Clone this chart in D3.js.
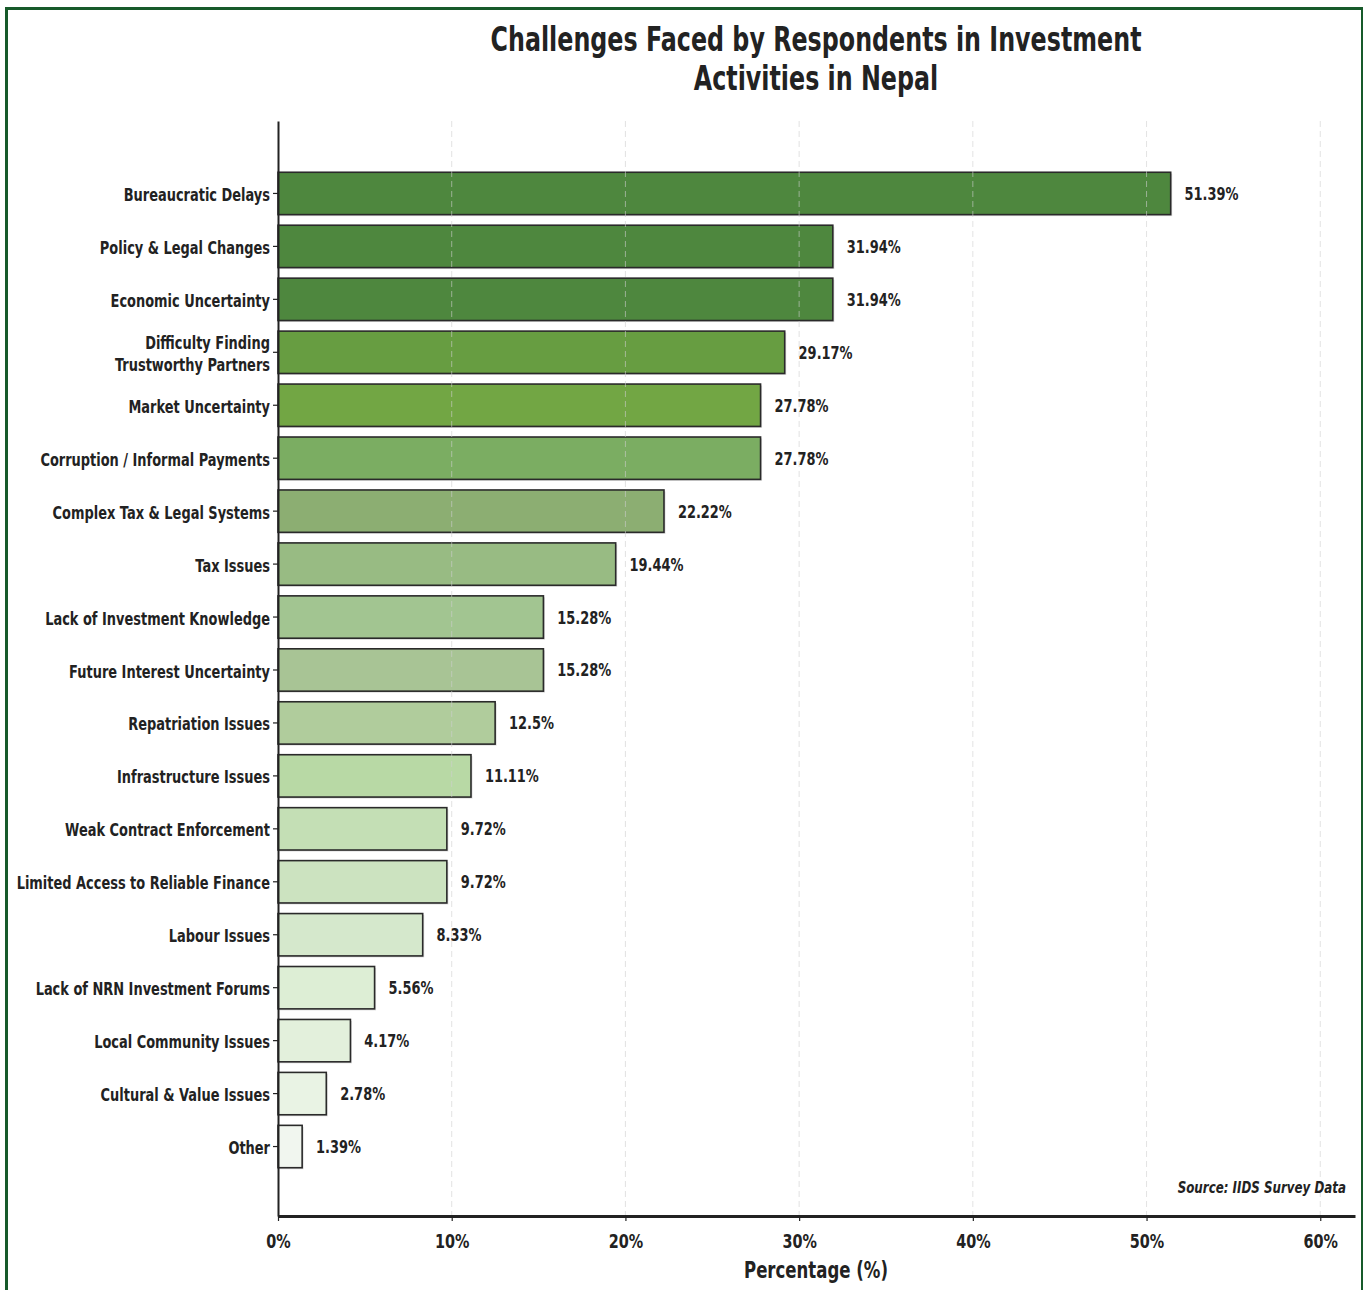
<!DOCTYPE html>
<html>
<head>
<meta charset="utf-8">
<script src="https://cdn.jsdelivr.net/npm/d3@7"></script>
<style>
  body { margin: 0; background: #ffffff; }
  text { font-family: "DejaVu Sans", sans-serif; font-weight: bold; fill: #222; }
</style>
</head>
<body>
<svg id="chart" width="1363" height="1290"></svg>
<script>
// Survey categories, top to bottom
const categories = [
  "Bureaucratic Delays",
  "Policy & Legal Changes",
  "Economic Uncertainty",
  "Difficulty Finding\nTrustworthy Partners",
  "Market Uncertainty",
  "Corruption / Informal Payments",
  "Complex Tax & Legal Systems",
  "Tax Issues",
  "Lack of Investment Knowledge",
  "Future Interest Uncertainty",
  "Repatriation Issues",
  "Infrastructure Issues",
  "Weak Contract Enforcement",
  "Limited Access to Reliable Finance",
  "Labour Issues",
  "Lack of NRN Investment Forums",
  "Local Community Issues",
  "Cultural & Value Issues",
  "Other"
];

// Share of respondents (%)
const values = [51.39, 31.94, 31.94, 29.17, 27.78, 27.78, 22.22, 19.44, 15.28, 15.28,
                12.5, 11.11, 9.72, 9.72, 8.33, 5.56, 4.17, 2.78, 1.39];

// Bar fills, dark to light green
const barColors = [
  "#4e873e", "#4e873e", "#4e873e", "#679d41", "#72a644", "#7bad62", "#8cae72",
  "#98bb83", "#a2c591", "#a8c495", "#b0cc9c", "#b8d9a5", "#c4dfb5", "#cce3c0",
  "#d5e8cc", "#ddeed5", "#e3f0dc", "#e9f3e4", "#f1f6ef"
];

const xTicks = [0, 10, 20, 30, 40, 50, 60];
const titleLines = ["Challenges Faced by Respondents in Investment", "Activities in Nepal"];
const xAxisTitle = "Percentage (%)";
const sourceNote = "Source: IIDS Survey Data";

const SX = 0.72; // horizontal squeeze applied to the type

const svg = d3.select("#chart");

// outer frame
svg.append("rect")
  .attr("x", 6.5).attr("y", 8.5)
  .attr("width", 1356).attr("height", 1320)
  .attr("fill", "none")
  .attr("stroke", "#175a2a")
  .attr("stroke-width", 3);

const plot = { left: 278, right: 1355, top: 121, bottom: 1216 };

const x = d3.scaleLinear().domain([0, 62]).range([plot.left, plot.right]);
const y = d3.scaleBand()
  .domain(categories)
  .range([plot.top, plot.bottom])
  .paddingInner(0.2)
  .paddingOuter(0.94)
  .align(0.515);

function squeezed(parent, px, py, str, size, anchor, italic, sx) {
  return parent.append("text")
    .attr("transform", `translate(${px},${py}) scale(${sx || SX},1)`)
    .attr("text-anchor", anchor)
    .style("font-size", size + "px")
    .style("font-style", italic ? "italic" : "normal")
    .text(str);
}

// bars with a faint drop shadow
const bars = svg.append("g");
bars.selectAll("rect.shadow")
  .data(values)
  .join("rect")
  .attr("class", "shadow")
  .attr("x", x(0) + 1.5)
  .attr("y", (d, i) => y(categories[i]) + 1.5)
  .attr("width", d => x(d) - x(0))
  .attr("height", y.bandwidth())
  .attr("fill", "#999")
  .attr("opacity", 0.35);

bars.selectAll("rect.bar")
  .data(values)
  .join("rect")
  .attr("class", "bar")
  .attr("x", x(0))
  .attr("y", (d, i) => y(categories[i]))
  .attr("width", d => x(d) - x(0))
  .attr("height", y.bandwidth())
  .attr("fill", (d, i) => barColors[i])
  .attr("stroke", "#2a2a2a")
  .attr("stroke-width", 1.6);

// dashed vertical grid above the bars
svg.append("g")
  .selectAll("line")
  .data(xTicks.filter(t => t > 0))
  .join("line")
  .attr("x1", d => x(d)).attr("x2", d => x(d))
  .attr("y1", plot.top).attr("y2", plot.bottom)
  .attr("stroke", "#cfcfcf")
  .attr("stroke-opacity", 0.6)
  .attr("stroke-width", 1)
  .attr("stroke-dasharray", "6,4");

// value labels
const vlab = svg.append("g");
values.forEach((v, i) => {
  squeezed(vlab, x(v + 0.8), y(categories[i]) + y.bandwidth() / 2 + 6.5, v + "%", 18, "start");
});

// x axis
const xAxis = svg.append("g")
  .attr("transform", `translate(0,${plot.bottom})`)
  .call(d3.axisBottom(x).tickValues(xTicks).tickFormat(d => d + "%").tickSize(5).tickSizeOuter(0));
xAxis.select(".domain").attr("stroke", "#222").attr("stroke-width", 3);
xAxis.selectAll(".tick line").attr("stroke", "#222").attr("stroke-width", 1.2);
xAxis.selectAll(".tick text").remove();
xAxis.selectAll(".tick").each(function (d) {
  squeezed(d3.select(this), 0, 31.5, d + "%", 20, "middle");
});

// y axis
const yAxis = svg.append("g")
  .attr("transform", `translate(${plot.left},0)`)
  .call(d3.axisLeft(y).tickSize(5).tickSizeOuter(0));
yAxis.select(".domain").attr("stroke", "#222").attr("stroke-width", 2);
yAxis.selectAll(".tick line").attr("stroke", "#222").attr("stroke-width", 1.2);
yAxis.selectAll(".tick text").remove();
yAxis.selectAll(".tick").each(function (d) {
  const lines = d.split("\n");
  const t = d3.select(this).append("text")
    .attr("transform", `translate(-8,0) scale(${SX},1)`)
    .attr("text-anchor", "end")
    .style("font-size", "18px");
  const lh = 22;
  const y0 = -(lines.length - 1) * lh / 2 + 7.5;
  lines.forEach((ln, k) => {
    t.append("tspan").attr("x", 0).attr("y", y0 + k * lh).text(ln);
  });
});

// titles
const cx = 816;
squeezed(svg, cx, 51, titleLines[0], 34, "middle", false, 0.70);
squeezed(svg, cx, 90, titleLines[1], 34, "middle", false, 0.70);
squeezed(svg, cx, 1278, xAxisTitle, 23, "middle");
squeezed(svg, 1346, 1193, sourceNote, 16.5, "end", true);
</script>
</body>
</html>
